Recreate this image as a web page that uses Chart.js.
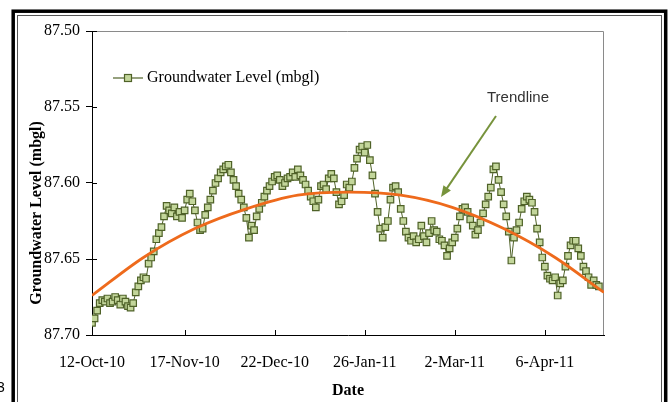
<!DOCTYPE html>
<html>
<head>
<meta charset="utf-8">
<script src="https://cdn.jsdelivr.net/npm/chart.js@4.4.1/dist/chart.umd.min.js"></script>
<style>
  html, body { margin: 0; padding: 0; background: #ffffff; }
  #chart_gw { display: block; }
</style>
</head>
<body>
<canvas id="chart_gw" width="668" height="402"></canvas>
<script>
// Daily groundwater level readings (mbgl), first reading 12-Oct-10, one per day
const startDate = '12-Oct-10';
const levels = [
  87.692, 87.689, 87.684, 87.679, 87.677, 87.678, 87.676, 87.679, 87.678, 87.675,
  87.677, 87.680, 87.676, 87.678, 87.681, 87.682, 87.679, 87.672, 87.668, 87.664,
  87.662, 87.663, 87.653, 87.649, 87.645, 87.637, 87.633, 87.629, 87.622, 87.615,
  87.618, 87.620, 87.616, 87.622, 87.619, 87.623, 87.618, 87.611, 87.607, 87.612,
  87.618, 87.626, 87.631, 87.630, 87.621, 87.616, 87.611, 87.605, 87.600, 87.597,
  87.593, 87.591, 87.589, 87.588, 87.593, 87.598, 87.602, 87.607, 87.611, 87.616,
  87.623, 87.636, 87.628, 87.631, 87.622, 87.617, 87.613, 87.609, 87.605, 87.602,
  87.599, 87.596, 87.595, 87.598, 87.602, 87.600, 87.597, 87.596, 87.593, 87.596,
  87.591, 87.595, 87.598, 87.601, 87.605, 87.609, 87.612, 87.616, 87.611, 87.602,
  87.601, 87.604, 87.597, 87.594, 87.597, 87.606, 87.614, 87.612, 87.608, 87.601,
  87.603, 87.599, 87.590, 87.584, 87.578, 87.576, 87.580, 87.575, 87.585, 87.595,
  87.607, 87.619, 87.630, 87.636, 87.629, 87.625, 87.611, 87.603, 87.602, 87.606,
  87.617, 87.625, 87.632, 87.636, 87.638, 87.635, 87.639, 87.637, 87.628, 87.635,
  87.639, 87.633, 87.625, 87.631, 87.632, 87.637, 87.638, 87.641, 87.648, 87.643,
  87.639, 87.636, 87.630, 87.622, 87.617, 87.616, 87.619, 87.624, 87.628, 87.634,
  87.631, 87.626, 87.620, 87.614, 87.609, 87.603, 87.591, 87.589, 87.598, 87.606,
  87.614, 87.622, 87.632, 87.651, 87.636, 87.631, 87.626, 87.617, 87.612, 87.609,
  87.611, 87.613, 87.619, 87.630, 87.639, 87.649, 87.655, 87.661, 87.663, 87.664,
  87.662, 87.674, 87.666, 87.664, 87.655, 87.648, 87.641, 87.638, 87.638, 87.643,
  87.648, 87.655, 87.658, 87.662, 87.667, 87.664, 87.667, 87.668
];

// polynomial trendline (day offset -> level)
const trendDays   = [0, 20, 40, 60, 80, 100, 120, 140, 160, 180, 199];
const trendValues = [87.674, 87.649, 87.630, 87.617, 87.608, 87.606, 87.608, 87.616, 87.630, 87.649, 87.672];

// axis ticks (day offset from start date)
const tickDays   = [0, 36, 71, 106, 141, 176];
const tickLabels = ['12-Oct-10', '17-Nov-10', '22-Dec-10', '26-Jan-11', '2-Mar-11', '6-Apr-11'];
const yTicks     = [87.50, 87.55, 87.60, 87.65, 87.70];

const serif = 'Liberation Serif';
const lineGreen = '#4F6228';
const fillGreen = '#C3D69B';
const trendOrange = '#EE6A1C';

const levelPoints = levels.map(function (v, i) { return { x: i, y: v }; });
const trendPoints = trendDays.map(function (d, i) { return { x: d, y: trendValues[i] }; });

// frame, legend, y title, inner ticks and the trendline arrow
const decorations = {
  id: 'decorations',
  beforeDatasetsDraw(chart) {
    const c = chart.ctx, a = chart.chartArea;
    c.save();
    c.strokeStyle = '#8a8a8a';
    c.lineWidth = 1;
    c.beginPath();
    c.moveTo(a.left, a.top + 0.5);
    c.lineTo(a.right - 0.5, a.top + 0.5);
    c.lineTo(a.right - 0.5, a.bottom);
    c.stroke();

    // inward ticks
    c.strokeStyle = '#000';
    const xs = chart.scales.x, ys = chart.scales.y;
    c.beginPath();
    tickDays.forEach(function (d) {
      const px = Math.round(xs.getPixelForValue(d)) + 0.5;
      c.moveTo(px, a.bottom);
      c.lineTo(px, a.bottom - 5);
    });
    yTicks.forEach(function (v) {
      const py = Math.round(ys.getPixelForValue(v)) + 0.5;
      c.moveTo(a.left, py);
      c.lineTo(a.left + 5, py);
    });
    c.stroke();
    c.restore();
  },
  afterDraw(chart) {
    const c = chart.ctx, a = chart.chartArea;
    c.save();

    // outer frame
    c.strokeStyle = '#000';
    c.lineWidth = 3.5;
    c.strokeRect(13.2, 11.2, 652.5, 420);
    c.strokeStyle = '#555';
    c.lineWidth = 1;
    c.strokeRect(17.5, 15.5, 644, 420);

    // stray page number at the left edge
    c.fillStyle = '#000';
    c.font = '14px "Liberation Sans"';
    c.textBaseline = 'middle';
    c.textAlign = 'left';
    c.fillText('3', -3, 388);

    // y axis title
    c.save();
    c.translate(37, 213);
    c.rotate(-Math.PI / 2);
    c.font = 'bold 16px "' + serif + '"';
    c.textAlign = 'center';
    c.fillText('Groundwater Level (mbgl)', 0, 0);
    c.restore();

    // legend
    const ly = 78;
    c.strokeStyle = lineGreen;
    c.lineWidth = 1.2;
    c.beginPath();
    c.moveTo(113, ly);
    c.lineTo(143, ly);
    c.stroke();
    c.fillStyle = fillGreen;
    c.fillRect(124.5, ly - 3.5, 7, 7);
    c.strokeRect(124.5, ly - 3.5, 7, 7);
    c.fillStyle = '#000';
    c.font = '16px "' + serif + '"';
    c.textAlign = 'left';
    c.fillText('Groundwater Level (mbgl)', 147, ly);

    // trendline label and arrow
    c.fillStyle = '#333';
    c.font = '15px "Liberation Sans"';
    c.textAlign = 'center';
    c.fillText('Trendline', 518, 98);

    const x1 = 496, y1 = 116, x2 = 441, y2 = 197;
    const ang = Math.atan2(y2 - y1, x2 - x1);
    c.strokeStyle = '#77933C';
    c.fillStyle = '#77933C';
    c.lineWidth = 2;
    c.beginPath();
    c.moveTo(x1, y1);
    c.lineTo(x2 - 8 * Math.cos(ang), y2 - 8 * Math.sin(ang));
    c.stroke();
    c.beginPath();
    c.moveTo(x2, y2);
    c.lineTo(x2 - 11 * Math.cos(ang) + 4.5 * Math.sin(ang), y2 - 11 * Math.sin(ang) - 4.5 * Math.cos(ang));
    c.lineTo(x2 - 11 * Math.cos(ang) - 4.5 * Math.sin(ang), y2 - 11 * Math.sin(ang) + 4.5 * Math.cos(ang));
    c.closePath();
    c.fill();

    c.restore();
  }
};

const configGW = {
  type: 'line',
  data: {
    datasets: [{
        label: 'Trendline',
        data: trendPoints,
        borderColor: trendOrange,
        borderWidth: 2.8,
        pointRadius: 0,
        fill: false,
        cubicInterpolationMode: 'monotone',
        order: 0
    },
    {
        label: 'Groundwater Level (mbgl)',
        data: levelPoints,
        borderColor: lineGreen,
        borderWidth: 1,
        pointStyle: 'rect',
        pointRadius: 4.6,
        pointBackgroundColor: fillGreen,
        pointBorderColor: lineGreen,
        pointBorderWidth: 1.2,
        fill: false,
        tension: 0,
        order: 1
    }]},
  options: {
    responsive: false,
    animation: false,
    layout: { padding: { left: 20, right: 64, top: 31, bottom: 0 } },
    plugins: {
      legend: { display: false },
      tooltip: { enabled: false }
    },
    scales: {
      x: {
        type: 'linear',
        min: 0,
        max: 199,
        afterBuildTicks: function (s) { s.ticks = tickDays.map(function (d) { return { value: d }; }); },
        afterFit: function (s) { s.height = 67; },
        ticks: {
          autoSkip: false,
          maxRotation: 0,
          padding: 10,
          color: '#000',
          font: { family: serif, size: 16 },
          callback: function (v, i) { return tickLabels[i]; }
        },
        grid: { display: false },
        border: { color: '#000', width: 1 },
        title: {
          display: true,
          text: 'Date',
          color: '#000',
          font: { family: serif, size: 16, weight: 'bold' },
          padding: { top: 0, bottom: 2 }
        }
      },
      y: {
        type: 'linear',
        reverse: true,
        min: 87.50,
        max: 87.70,
        afterBuildTicks: function (s) { s.ticks = yTicks.map(function (v) { return { value: v }; }); },
        afterFit: function (s) { s.width = 72; },
        ticks: {
          padding: 6,
          color: '#000',
          font: { family: serif, size: 16 },
          callback: function (v) { return Number(v).toFixed(2); }
        },
        grid: { drawOnChartArea: false, tickLength: 6, color: '#000' },
        border: { color: '#000', width: 1 }
      }
    }
  },
  plugins: [decorations]
};

const chartGW = new Chart(document.getElementById('chart_gw'), configGW);
</script>
</body>
</html>
